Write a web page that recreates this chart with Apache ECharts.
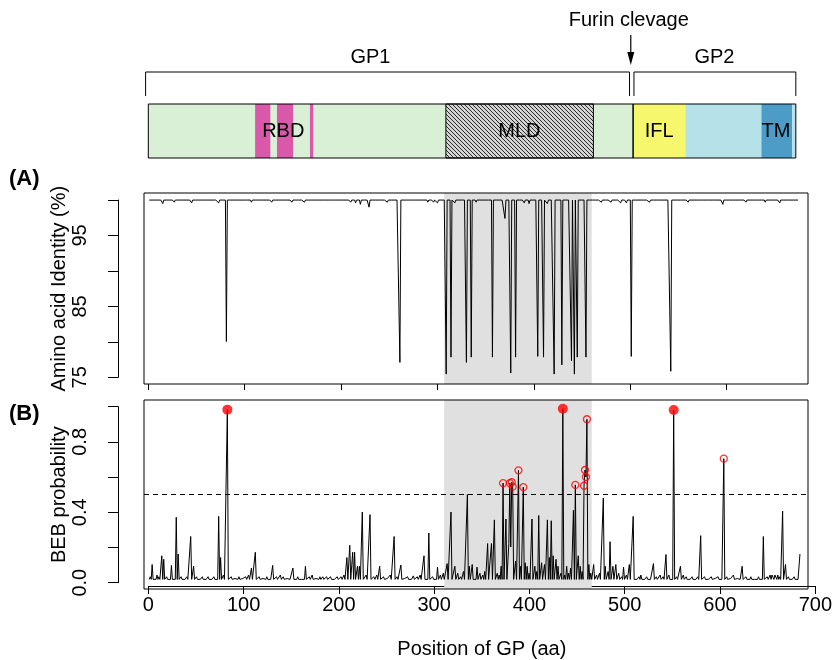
<!DOCTYPE html>
<html><head><meta charset="utf-8">
<script src="https://cdn.jsdelivr.net/npm/echarts@6/dist/echarts.min.js"></script>
<style>html,body{margin:0;padding:0;background:#fff}#c{width:835px;height:660px}</style>
</head><body><div id="c"></div>
<script>
// ---------------- data ----------------
const xTicks = [0, 100, 200, 300, 400, 500, 600, 700];
const panelATicks = [0, 100, 200, 300, 400, 500, 600];
const identityTicks = [75, 80, 85, 90, 95, 100];
const identityTickLabels = ['75', '85', '95'];
const bebTicks = [0, 0.2, 0.4, 0.6, 0.8, 1.0];
const bebTickLabels = ['0.0', '0.4', '0.8'];

const identityLength = 674;
const identityFull = 100;             // identity at every site not listed below
const identityDips = [
  [15,99.5],[27,99.7],[45,99.6],[73,99.6],[81,80.0],[107,99.7],[128,99.7],[149,99.7],[162,99.7],
  [210,99.7],[215,99.6],[220,99.4],[229,99.0],[248,99.7],[261,77.05],[290,99.7],[296,99.7],[300,99.6],
  [309,75.4],[314,77.8],[318,99.6],[330,77.05],[335,77.8],[340,99.7],[357,77.8],[370,97.4],[376,75.55],
  [381,77.8],[390,99.6],[395,99.5],[404,77.9],[410,77.8],[414,99.5],[421,75.4],[429,76.7],[439,77.3],
  [442,75.4],[445,77.8],[454,77.8],[470,99.7],[480,99.7],[490,99.6],[496,99.6],[501,77.9],[520,99.7],
  [542,75.8],[560,99.7],[596,99.4],[620,99.7],[640,99.7],[655,99.6]
];

const bebLength = 676;
const bebBaseline = 0.015;
const bebPeaks = [
  [4,0.10],[14,0.15],[16,0.13],[24,0.095],[29,0.37],[31,0.16],[44,0.26],[47,0.09],[73,0.375],[75,0.14],
  [82,0.985],[107,0.08],[111,0.17],[129,0.095],[150,0.08],[163,0.09],[185,0.03],[206,0.14],[209,0.21],
  [212,0.17],[214,0.17],[217,0.09],[219,0.09],[222,0.40],[230,0.385],[240,0.09],[255,0.26],[262,0.097],
  [275,0.035],[286,0.15],[291,0.28],[300,0.085],[310,0.105],[314,0.40],[318,0.09],[331,0.50],[333,0.09],
  [336,0.10],[341,0.085],[352,0.22],[356,0.22],[359,0.355],[366,0.09],[368,0.565],[371,0.36],[374,0.22],
  [375,0.565],[376,0.20],[377,0.57],[378,0.545],[381,0.12],[384,0.638],[386,0.09],[389,0.542],[391,0.11],
  [393,0.09],[398,0.36],[401,0.09],[405,0.38],[408,0.11],[411,0.10],[414,0.355],[416,0.14],[418,0.35],
  [420,0.15],[423,0.13],[425,0.09],[430,0.99],[434,0.09],[438,0.08],[441,0.41],[443,0.555],[446,0.15],
  [448,0.09],[452,0.55],[453,0.64],[454,0.60],[455,0.93],[457,0.10],[462,0.10],[472,0.48],[474,0.09],
  [479,0.23],[482,0.09],[485,0.10],[493,0.085],[499,0.10],[503,0.375],[511,0.04],[524,0.105],[531,0.04],
  [537,0.157],[545,0.983],[552,0.09],[573,0.265],[597,0.705],[616,0.09],[625,0.03],[638,0.26],[647,0.04],
  [650,0.04],[653,0.04],[658,0.405],[661,0.10],[676,0.16]
];
const bebMinor = [
  [2,0.03],[7,0.02],[9,0.04],[11,0.03],[19,0.03],[21,0.02],[34,0.03],[37,0.02],[40,0.03],[50,0.03],
  [53,0.02],[56,0.03],[59,0.02],[62,0.03],[65,0.02],[68,0.03],[78,0.04],[86,0.03],[90,0.02],[94,0.03],
  [98,0.02],[101,0.03],[104,0.04],[115,0.03],[119,0.02],[123,0.03],[133,0.03],[137,0.04],[140,0.03],
  [144,0.02],[155,0.03],[158,0.02],[167,0.03],[170,0.04],[174,0.02],[178,0.03],[181,0.03],[189,0.03],
  [192,0.02],[196,0.03],[200,0.03],[203,0.04],[226,0.04],[234,0.03],[237,0.04],[244,0.03],[248,0.02],
  [251,0.04],[258,0.03],[266,0.02],[269,0.03],[272,0.02],[279,0.03],[282,0.04],[295,0.03],[303,0.04],
  [306,0.05],[321,0.05],[324,0.03],[327,0.06],[344,0.05],[347,0.04],[349,0.06],[362,0.05],[364,0.04],
  [395,0.05],[403,0.06],[428,0.05],[432,0.04],[436,0.05],[450,0.06],[459,0.05],[465,0.04],[468,0.05],
  [477,0.06],[488,0.05],[491,0.03],[496,0.04],[506,0.02],[509,0.03],[514,0.02],[517,0.03],[520,0.02],
  [527,0.03],[534,0.03],[540,0.04],[548,0.03],[555,0.04],[558,0.03],[561,0.02],[564,0.03],[567,0.02],
  [570,0.03],[577,0.03],[580,0.02],[584,0.03],[588,0.02],[591,0.03],[594,0.02],[600,0.03],[604,0.02],
  [607,0.04],[611,0.02],[620,0.03],[630,0.02],[633,0.03],[642,0.03],[645,0.04],[648,0.03],[651,0.05],
  [655,0.03],[664,0.03],[667,0.02],[670,0.03],[673,0.02]
];
const bebThreshold = 0.5;
const bebStrong = 0.95;

const mldRegion = [307, 460];

// protein map (aa positions)
const domainFills = [
  [0, 502.9, 'gp1'], [110.8, 126.6, 'rbd'], [133.5, 150.2, 'rbd'], [167.7, 171.1, 'rbd'],
  [308.7, 461.7, 'mld'], [502.9, 557.2, 'ifl'], [557.2, 636, 'gp2'], [636, 668, 'tm'], [668, 671.7, 'gp2']
];
const domainOutlines = [[0, 502.9], [308.7, 461.7], [502.9, 671.7]];
const domainLabels = [['RBD', 140], ['MLD', 385], ['IFL', 530], ['TM', 651]];
const brackets = [['GP1', -2.8, 499.2, 230.4], ['GP2', 503.8, 671.7, 587.3]];
const furinSite = 500.5;
const furinText = 'Furin clevage';

// ---------------- build ----------------
const FONT = '"Liberation Sans", Arial, Helvetica, sans-serif';
const identityData = [];
const dipMap = new Map(identityDips);
for (let i = 1; i <= identityLength; i++) identityData.push([i, dipMap.has(i) ? dipMap.get(i) : identityFull]);
const bebMap = new Map(bebMinor.concat(bebPeaks));
const bebData = [];
for (let i = 1; i <= bebLength; i++) bebData.push([i, bebMap.has(i) ? bebMap.get(i) : bebBaseline]);
const strongSites = bebPeaks.filter(p => p[1] >= bebStrong);
const candSites = bebPeaks.filter(p => p[1] > bebThreshold && p[1] < bebStrong);

const hatch = document.createElement('canvas');
hatch.width = 4; hatch.height = 4;
(function () {
  const c = hatch.getContext('2d');
  c.fillStyle = '#d4d4d4'; c.fillRect(0, 0, 4, 4);
  c.strokeStyle = '#2a2a2a'; c.lineWidth = 1;
  c.beginPath();
  c.moveTo(-1, -1); c.lineTo(5, 5);
  c.moveTo(-1, 3); c.lineTo(1, 5);
  c.moveTo(3, -1); c.lineTo(5, 1);
  c.stroke();
})();
const fills = {
  gp1: '#d9efd6', rbd: '#da58aa', mld: { image: hatch, repeat: 'repeat' },
  ifl: '#f6f76c', gp2: '#b5e1e8', tm: '#4d9cc8'
};

const XL = 148.3, XW = 674.8;            // 0..700 mapping
const PX = XW / 700;
const boxL = 144, boxR = 808;
const yAxisX = 118;
const xMinBox = (boxL - XL) / PX, xMaxBox = (boxR - XL) / PX;
const BAR_T = 104, BAR_B = 158;

const hidden = { show: false, splitLine: { show: false } };
const tickFmt = (labels) => (v) => { const s = (Math.abs(v) < 1e-9 ? 0 : v).toFixed(labels[0].includes('.') ? 1 : 0); return labels.includes(s) ? s : ''; };

const chart = echarts.init(document.getElementById('c'), null, { renderer: 'canvas' });
chart.setOption({
  animation: false,
  backgroundColor: '#fff',
  textStyle: { fontFamily: FONT },
  grid: [
    { left: boxL, top: 193, width: boxR - boxL, height: 191, show: true, borderColor: '#000', borderWidth: 1, z: 5 },
    { left: boxL, top: 400, width: boxR - boxL, height: 189, show: true, borderColor: '#000', borderWidth: 1, z: 5 },
    { left: yAxisX, top: 200, width: 20, height: 177.3 },
    { left: yAxisX, top: 406.7, width: 20, height: 176 },
    { left: XL, top: 400, width: XW, height: 189 },
    { left: XL, top: 193, width: PX * panelATicks[panelATicks.length - 1], height: 191 },
    { left: XL, top: 0, width: XW, height: 170 }
  ],
  xAxis: [
    Object.assign({ gridIndex: 0, type: 'value', min: xMinBox, max: xMaxBox }, hidden),
    Object.assign({ gridIndex: 1, type: 'value', min: xMinBox, max: xMaxBox }, hidden),
    Object.assign({ gridIndex: 2, type: 'value', min: 0, max: 1 }, hidden),
    Object.assign({ gridIndex: 3, type: 'value', min: 0, max: 1 }, hidden),
    {
      gridIndex: 4, type: 'value', min: xTicks[0], max: xTicks[xTicks.length - 1], interval: 100,
      position: 'bottom',
      axisLine: { show: true, lineStyle: { color: '#000', width: 1 } },
      axisTick: { show: true, inside: false, length: 8, lineStyle: { color: '#000' } },
      axisLabel: { show: true, color: '#000', fontSize: 20, fontFamily: FONT, margin: 9, showMinLabel: true, showMaxLabel: true },
      splitLine: { show: false },
      name: 'Position of GP (aa)', nameLocation: 'middle', nameGap: 53,
      nameTextStyle: { color: '#000', fontSize: 20, fontFamily: FONT }
    },
    {
      gridIndex: 5, type: 'value', min: panelATicks[0], max: panelATicks[panelATicks.length - 1], interval: 100,
      position: 'bottom',
      axisLine: { show: false },
      axisTick: { show: true, inside: false, length: 6, lineStyle: { color: '#000' } },
      axisLabel: { show: false }, splitLine: { show: false }
    },
    Object.assign({ gridIndex: 6, type: 'value', min: 0, max: 700 }, hidden)
  ],
  yAxis: [
    Object.assign({ gridIndex: 0, type: 'value', min: 74, max: 101 }, hidden),
    Object.assign({ gridIndex: 1, type: 'value', min: -0.04, max: 1.04 }, hidden),
    {
      gridIndex: 2, type: 'value', min: identityTicks[0], max: identityTicks[identityTicks.length - 1], interval: 5,
      position: 'left',
      axisLine: { show: true, lineStyle: { color: '#000', width: 1 } },
      axisTick: { show: true, length: 10, lineStyle: { color: '#000' } },
      axisLabel: { show: true, rotate: 90, color: '#000', fontSize: 20, fontFamily: FONT, margin: 28, formatter: tickFmt(identityTickLabels) },
      splitLine: { show: false },
      name: 'Amino acid Identity (%)', nameLocation: 'middle', nameGap: 48,
      nameTextStyle: { color: '#000', fontSize: 20, fontFamily: FONT }
    },
    {
      gridIndex: 3, type: 'value', min: bebTicks[0], max: bebTicks[bebTicks.length - 1], interval: 0.2,
      position: 'left',
      axisLine: { show: true, lineStyle: { color: '#000', width: 1 } },
      axisTick: { show: true, length: 10, lineStyle: { color: '#000' } },
      axisLabel: { show: true, rotate: 90, color: '#000', fontSize: 20, fontFamily: FONT, margin: 28, formatter: tickFmt(bebTickLabels) },
      splitLine: { show: false },
      name: 'BEB probability', nameLocation: 'middle', nameGap: 48,
      nameTextStyle: { color: '#000', fontSize: 20, fontFamily: FONT }
    },
    Object.assign({ gridIndex: 4, type: 'value', min: 0, max: 1 }, hidden),
    Object.assign({ gridIndex: 5, type: 'value', min: 0, max: 1 }, hidden),
    Object.assign({ gridIndex: 6, type: 'value', min: 0, max: 1 }, hidden)
  ],
  graphic: [
    { type: 'text', left: 9, top: 168, style: { text: '(A)', font: 'bold 22px ' + FONT, fill: '#000' } },
    { type: 'text', left: 9, top: 403, style: { text: '(B)', font: 'bold 22px ' + FONT, fill: '#000' } }
  ],
  series: [
    {
      type: 'custom', xAxisIndex: 0, yAxisIndex: 0, z: 1, silent: true, clip: true,
      data: [mldRegion],
      renderItem: (p, api) => {
        const a = api.coord([api.value(0), 101]), b = api.coord([api.value(1), 74]);
        return { type: 'rect', shape: { x: a[0], y: a[1], width: b[0] - a[0], height: b[1] - a[1] }, style: { fill: '#e0e0e0' } };
      }
    },
    {
      type: 'custom', xAxisIndex: 1, yAxisIndex: 1, z: 1, silent: true, clip: true,
      data: [mldRegion],
      renderItem: (p, api) => {
        const a = api.coord([api.value(0), 1.04]), b = api.coord([api.value(1), -0.04]);
        return { type: 'rect', shape: { x: a[0], y: a[1], width: b[0] - a[0], height: b[1] - a[1] }, style: { fill: '#e0e0e0' } };
      }
    },
    {
      type: 'line', xAxisIndex: 0, yAxisIndex: 0, z: 3, data: identityData, showSymbol: false, symbol: 'none',
      lineStyle: { color: '#000', width: 1 }, silent: true
    },
    {
      type: 'line', xAxisIndex: 1, yAxisIndex: 1, z: 3, data: bebData, showSymbol: false, symbol: 'none',
      lineStyle: { color: '#000', width: 1 }, silent: true,
      markLine: {
        silent: true, symbol: 'none', label: { show: false },
        lineStyle: { color: '#000', width: 1, type: [5, 4] },
        data: [{ yAxis: bebThreshold }]
      }
    },
    {
      type: 'scatter', xAxisIndex: 1, yAxisIndex: 1, z: 4, data: candSites, symbol: 'circle', symbolSize: 7,
      itemStyle: { color: 'rgba(0,0,0,0)', borderColor: '#ff0000', borderWidth: 1.3 }, silent: true
    },
    {
      type: 'scatter', xAxisIndex: 1, yAxisIndex: 1, z: 4, data: strongSites, symbol: 'circle', symbolSize: 10,
      itemStyle: { color: '#ff0000' }, silent: true
    },
    {
      type: 'custom', xAxisIndex: 6, yAxisIndex: 6, z: 2, silent: true,
      data: domainFills.map(d => [d[0], d[1]]),
      renderItem: (p, api) => {
        const a = api.coord([api.value(0), 0]), b = api.coord([api.value(1), 0]);
        return { type: 'rect', shape: { x: a[0], y: BAR_T, width: b[0] - a[0], height: BAR_B - BAR_T }, style: { fill: fills[domainFills[p.dataIndex][2]] } };
      }
    },
    {
      type: 'custom', xAxisIndex: 6, yAxisIndex: 6, z: 3, silent: true,
      data: domainOutlines,
      renderItem: (p, api) => {
        const a = api.coord([api.value(0), 0]), b = api.coord([api.value(1), 0]);
        return { type: 'rect', shape: { x: a[0], y: BAR_T, width: b[0] - a[0], height: BAR_B - BAR_T }, style: { fill: null, stroke: '#000', lineWidth: 1 } };
      }
    },
    {
      type: 'custom', xAxisIndex: 6, yAxisIndex: 6, z: 4, silent: true,
      data: domainLabels.map(d => [d[1]]),
      renderItem: (p, api) => {
        const a = api.coord([api.value(0), 0]);
        return { type: 'text', x: a[0], y: 131, style: { text: domainLabels[p.dataIndex][0], font: '20px ' + FONT, fill: '#000', align: 'center', verticalAlign: 'middle' } };
      }
    },
    {
      type: 'custom', xAxisIndex: 6, yAxisIndex: 6, z: 4, silent: true,
      data: brackets.map(b => [b[1], b[2], b[3]]),
      renderItem: (p, api) => {
        const a = api.coord([api.value(0), 0]), b = api.coord([api.value(1), 0]), c = api.coord([api.value(2), 0]);
        return {
          type: 'group', children: [
            { type: 'polyline', shape: { points: [[a[0], 96], [a[0], 72], [b[0], 72], [b[0], 96]] }, style: { stroke: '#000', lineWidth: 1, fill: null } },
            { type: 'text', x: c[0], y: 57, style: { text: brackets[p.dataIndex][0], font: '20px ' + FONT, fill: '#000', align: 'center', verticalAlign: 'middle' } }
          ]
        };
      }
    },
    {
      type: 'custom', xAxisIndex: 6, yAxisIndex: 6, z: 4, silent: true,
      data: [[furinSite]],
      renderItem: (p, api) => {
        const a = api.coord([api.value(0), 0]);
        const x = a[0];
        return {
          type: 'group', children: [
            { type: 'line', shape: { x1: x, y1: 35, x2: x, y2: 56 }, style: { stroke: '#000', lineWidth: 1.2 } },
            { type: 'polygon', shape: { points: [[x - 3.5, 52], [x + 3.5, 52], [x, 65]] }, style: { fill: '#000' } },
            { type: 'text', x: x - 2, y: 20, style: { text: furinText, font: '20px ' + FONT, fill: '#000', align: 'center', verticalAlign: 'middle' } }
          ]
        };
      }
    }
  ]
});
</script>
</body></html>
